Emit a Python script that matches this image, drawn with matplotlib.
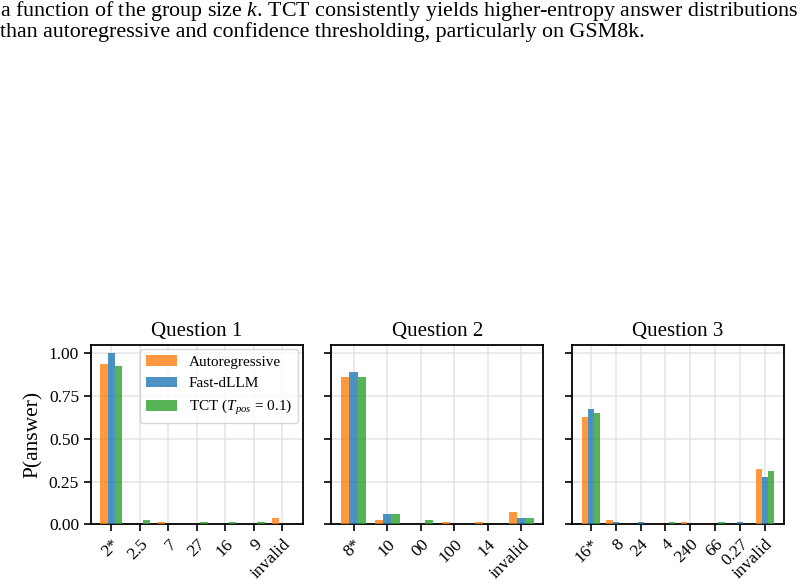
import numpy as np
import matplotlib
matplotlib.use("Agg")
import matplotlib.pyplot as plt

plt.rcParams['font.family'] = ['Liberation Serif', 'DejaVu Serif']
plt.rcParams['mathtext.fontset'] = 'custom'
plt.rcParams['mathtext.rm'] = 'Liberation Serif'
plt.rcParams['mathtext.it'] = 'Liberation Serif:italic'

# answer distributions per question
q1_labels = ['2*', '2.5', '7', '27', '16', '9', 'invalid']
q1_ar = [0.9375, 0, 0.0125, 0, 0, 0, 0.04]
q1_fast = [1.0, 0, 0, 0, 0, 0, 0]
q1_tct = [0.925, 0.028, 0, 0.0125, 0.0125, 0.0125, 0]

q2_labels = ['8*', '10', '00', '100', '14', 'invalid']
q2_ar = [0.8625, 0.025, 0, 0.0125, 0.0125, 0.075]
q2_fast = [0.8875, 0.0625, 0, 0, 0, 0.0375]
q2_tct = [0.8625, 0.0625, 0.025, 0, 0, 0.0375]

q3_labels = ['16*', '8', '24', '4', '240', '66', '0.27', 'invalid']
q3_ar = [0.625, 0.025, 0, 0, 0.0125, 0, 0, 0.325]
q3_fast = [0.675, 0.0125, 0.0125, 0, 0, 0, 0.0125, 0.275]
q3_tct = [0.65, 0, 0, 0.0125, 0, 0.0125, 0, 0.3125]

methods = ['Autoregressive', 'Fast-dLLM', r'TCT ($T_{pos}$ = 0.1)']
colors = ['tab:orange', 'tab:blue', 'tab:green']

questions = [
    ('Question 1', q1_labels, [q1_ar, q1_fast, q1_tct]),
    ('Question 2', q2_labels, [q2_ar, q2_fast, q2_tct]),
    ('Question 3', q3_labels, [q3_ar, q3_fast, q3_tct]),
]

fig, axes = plt.subplots(1, 3, figsize=(8.04, 5.88), dpi=100, sharey=True)
fig.subplots_adjust(left=0.113, right=0.975, top=0.414, bottom=0.108, wspace=0.135)

w = 0.25
for ax, (title, labels, series) in zip(axes, questions):
    x = np.arange(len(labels))
    for i, (vals, c, m) in enumerate(zip(series, colors, methods)):
        ax.bar(x + (i - 1) * w, vals, w, color=c, alpha=0.8, label=m, zorder=3)
    ax.set_xticks(x)
    ax.set_xticklabels(labels, rotation=45, ha='right', rotation_mode='anchor', fontsize=12.5)
    ax.set_title(title, fontsize=15)
    ax.grid(True, color='#e0e0e0', linewidth=1.2, alpha=0.8, zorder=0)
    ax.tick_params(direction='out', length=5, width=1.2, labelsize=12.5)
    for s in ax.spines.values():
        s.set_linewidth(1.3)

axes[0].set_ylabel('P(answer)', fontsize=15.5)
axes[0].set_yticks([0, 0.25, 0.5, 0.75, 1.0])
axes[0].set_yticklabels(['0.00', '0.25', '0.50', '0.75', '1.00'])
axes[0].legend(loc='upper right', fontsize=11, handlelength=2.0, borderaxespad=0.3)

fig.text(0.0, 0.982, 'a function of the group size $k$. TCT consistently yields higher-entropy answer distributions',
         fontsize=15.8, va='center', ha='left')
fig.text(0.0, 0.946, 'than autoregressive and confidence thresholding, particularly on GSM8k.',
         fontsize=15.8, va='center', ha='left')

fig.savefig('out.png', dpi=100)
